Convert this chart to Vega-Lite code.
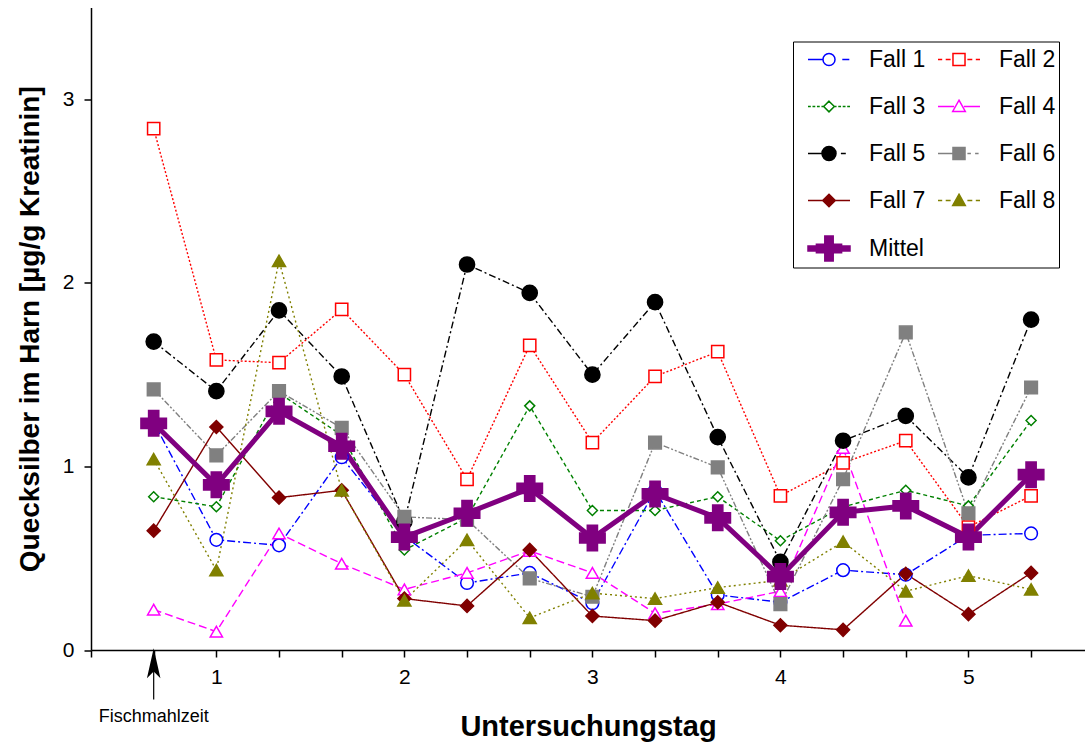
{
  "$schema": "https://vega.github.io/schema/vega-lite/v6.json",
  "width": 994,
  "height": 642.5,
  "autosize": {"type": "none"},
  "padding": {"left": 91, "top": 7.5, "right": 0, "bottom": 94},
  "background": "white",
  "config": {
    "font": "Liberation Sans",
    "view": {"stroke": null},
    "axis": {"grid": false, "domainColor": "black", "domainWidth": 1.5, "tickColor": "black", "tickWidth": 1.5, "tickSize": 7, "labelColor": "black", "labelFontSize": 21, "labelFont": "Liberation Sans", "titleColor": "black", "titleFont": "Liberation Sans", "titleFontWeight": "bold"}
  },
  "resolve": {"scale": {"stroke": "independent", "fill": "independent", "shape": "independent"}},
  "data": {"values": [
    {"s":"Fall 1","x":0.6667,"y":1.24},{"s":"Fall 1","x":1,"y":0.60},{"s":"Fall 1","x":1.3333,"y":0.57},{"s":"Fall 1","x":1.6667,"y":1.05},{"s":"Fall 1","x":2,"y":0.62},{"s":"Fall 1","x":2.3333,"y":0.365},{"s":"Fall 1","x":2.6667,"y":0.42},{"s":"Fall 1","x":3,"y":0.255},{"s":"Fall 1","x":3.3333,"y":0.87},{"s":"Fall 1","x":3.6667,"y":0.30},{"s":"Fall 1","x":4,"y":0.26},{"s":"Fall 1","x":4.3333,"y":0.435},{"s":"Fall 1","x":4.6667,"y":0.41},{"s":"Fall 1","x":5,"y":0.625},{"s":"Fall 1","x":5.3333,"y":0.635},
    {"s":"Fall 2","x":0.6667,"y":2.84},{"s":"Fall 2","x":1,"y":1.58},{"s":"Fall 2","x":1.3333,"y":1.565},{"s":"Fall 2","x":1.6667,"y":1.855},{"s":"Fall 2","x":2,"y":1.50},{"s":"Fall 2","x":2.3333,"y":0.93},{"s":"Fall 2","x":2.6667,"y":1.66},{"s":"Fall 2","x":3,"y":1.13},{"s":"Fall 2","x":3.3333,"y":1.49},{"s":"Fall 2","x":3.6667,"y":1.625},{"s":"Fall 2","x":4,"y":0.84},{"s":"Fall 2","x":4.3333,"y":1.02},{"s":"Fall 2","x":4.6667,"y":1.14},{"s":"Fall 2","x":5,"y":0.67},{"s":"Fall 2","x":5.3333,"y":0.84},
    {"s":"Fall 3","x":0.6667,"y":0.835},{"s":"Fall 3","x":1,"y":0.78},{"s":"Fall 3","x":1.3333,"y":1.40},{"s":"Fall 3","x":1.6667,"y":1.17},{"s":"Fall 3","x":2,"y":0.545},{"s":"Fall 3","x":2.3333,"y":0.72},{"s":"Fall 3","x":2.6667,"y":1.33},{"s":"Fall 3","x":3,"y":0.76},{"s":"Fall 3","x":3.3333,"y":0.76},{"s":"Fall 3","x":3.6667,"y":0.835},{"s":"Fall 3","x":4,"y":0.595},{"s":"Fall 3","x":4.3333,"y":0.78},{"s":"Fall 3","x":4.6667,"y":0.87},{"s":"Fall 3","x":5,"y":0.785},{"s":"Fall 3","x":5.3333,"y":1.25},
    {"s":"Fall 4","x":0.6667,"y":0.22},{"s":"Fall 4","x":1,"y":0.10},{"s":"Fall 4","x":1.3333,"y":0.635},{"s":"Fall 4","x":1.6667,"y":0.47},{"s":"Fall 4","x":2,"y":0.33},{"s":"Fall 4","x":2.3333,"y":0.42},{"s":"Fall 4","x":2.6667,"y":0.54},{"s":"Fall 4","x":3,"y":0.42},{"s":"Fall 4","x":3.3333,"y":0.20},{"s":"Fall 4","x":3.6667,"y":0.25},{"s":"Fall 4","x":4,"y":0.32},{"s":"Fall 4","x":4.3333,"y":1.10},{"s":"Fall 4","x":4.6667,"y":0.16},
    {"s":"Fall 5","x":0.6667,"y":1.68},{"s":"Fall 5","x":1,"y":1.41},{"s":"Fall 5","x":1.3333,"y":1.85},{"s":"Fall 5","x":1.6667,"y":1.49},{"s":"Fall 5","x":2,"y":0.70},{"s":"Fall 5","x":2.3333,"y":2.10},{"s":"Fall 5","x":2.6667,"y":1.945},{"s":"Fall 5","x":3,"y":1.50},{"s":"Fall 5","x":3.3333,"y":1.895},{"s":"Fall 5","x":3.6667,"y":1.16},{"s":"Fall 5","x":4,"y":0.48},{"s":"Fall 5","x":4.3333,"y":1.14},{"s":"Fall 5","x":4.6667,"y":1.275},{"s":"Fall 5","x":5,"y":0.94},{"s":"Fall 5","x":5.3333,"y":1.80},
    {"s":"Fall 6","x":0.6667,"y":1.42},{"s":"Fall 6","x":1,"y":1.06},{"s":"Fall 6","x":1.3333,"y":1.41},{"s":"Fall 6","x":1.6667,"y":1.21},{"s":"Fall 6","x":2,"y":0.725},{"s":"Fall 6","x":2.3333,"y":0.71},{"s":"Fall 6","x":2.6667,"y":0.39},{"s":"Fall 6","x":3,"y":0.29},{"s":"Fall 6","x":3.3333,"y":1.13},{"s":"Fall 6","x":3.6667,"y":0.995},{"s":"Fall 6","x":4,"y":0.25},{"s":"Fall 6","x":4.3333,"y":0.93},{"s":"Fall 6","x":4.6667,"y":1.73},{"s":"Fall 6","x":5,"y":0.745},{"s":"Fall 6","x":5.3333,"y":1.43},
    {"s":"Fall 7","x":0.6667,"y":0.65},{"s":"Fall 7","x":1,"y":1.215},{"s":"Fall 7","x":1.3333,"y":0.83},{"s":"Fall 7","x":1.6667,"y":0.87},{"s":"Fall 7","x":2,"y":0.28},{"s":"Fall 7","x":2.3333,"y":0.24},{"s":"Fall 7","x":2.6667,"y":0.545},{"s":"Fall 7","x":3,"y":0.185},{"s":"Fall 7","x":3.3333,"y":0.16},{"s":"Fall 7","x":3.6667,"y":0.26},{"s":"Fall 7","x":4,"y":0.135},{"s":"Fall 7","x":4.3333,"y":0.11},{"s":"Fall 7","x":4.6667,"y":0.415},{"s":"Fall 7","x":5,"y":0.195},{"s":"Fall 7","x":5.3333,"y":0.42},
    {"s":"Fall 8","x":0.6667,"y":1.04},{"s":"Fall 8","x":1,"y":0.435},{"s":"Fall 8","x":1.3333,"y":2.12},{"s":"Fall 8","x":1.6667,"y":0.87},{"s":"Fall 8","x":2,"y":0.27},{"s":"Fall 8","x":2.3333,"y":0.60},{"s":"Fall 8","x":2.6667,"y":0.175},{"s":"Fall 8","x":3,"y":0.31},{"s":"Fall 8","x":3.3333,"y":0.28},{"s":"Fall 8","x":3.6667,"y":0.34},{"s":"Fall 8","x":4,"y":0.38},{"s":"Fall 8","x":4.3333,"y":0.59},{"s":"Fall 8","x":4.6667,"y":0.32},{"s":"Fall 8","x":5,"y":0.405},{"s":"Fall 8","x":5.3333,"y":0.33},
    {"s":"Mittel","x":0.6667,"y":1.235},{"s":"Mittel","x":1,"y":0.90},{"s":"Mittel","x":1.3333,"y":1.30},{"s":"Mittel","x":1.6667,"y":1.11},{"s":"Mittel","x":2,"y":0.615},{"s":"Mittel","x":2.3333,"y":0.745},{"s":"Mittel","x":2.6667,"y":0.88},{"s":"Mittel","x":3,"y":0.61},{"s":"Mittel","x":3.3333,"y":0.85},{"s":"Mittel","x":3.6667,"y":0.72},{"s":"Mittel","x":4,"y":0.40},{"s":"Mittel","x":4.3333,"y":0.75},{"s":"Mittel","x":4.6667,"y":0.785},{"s":"Mittel","x":5,"y":0.615},{"s":"Mittel","x":5.3333,"y":0.955}
  ]},
  "encoding": {
    "x": {"field": "x", "type": "quantitative", "scale": {"domain": [0.3333, 5.62], "nice": false, "zero": false},
      "axis": {"title": "Untersuchungstag", "titleFontSize": 29, "titlePadding": 25, "values": [0.3333,0.6667,1,1.3333,1.6667,2,2.3333,2.6667,3,3.3333,3.6667,4,4.3333,4.6667,5,5.3333], "labelExpr": "abs(datum.value - round(datum.value)) < 0.01 ? format(datum.value, 'd') : ''", "labelPadding": 9, "labelFlush": false, "labelOverlap": false}},
    "y": {"field": "y", "type": "quantitative", "scale": {"domain": [0, 3.5], "nice": false},
      "axis": {"title": "Quecksilber im Harn [µg/g Kreatinin]", "titleFontSize": 28, "titlePadding": 18, "values": [0, 1, 2, 3], "format": "d", "labelPadding": 10}}
  },
  "layer": [
    {"data": {"values": [{}]}, "mark": {"type": "rule", "color": "black", "strokeWidth": 1.5}, "encoding": {"x": null, "y": {"datum": 3.5}}},
    {"transform": [{"filter": "datum.s !== 'Mittel'"}],
     "mark": {"type": "line", "strokeWidth": 1.4},
     "encoding": {
       "stroke": {"field": "s", "type": "nominal", "legend": null, "scale": {"domain": ["Fall 1","Fall 2","Fall 3","Fall 4","Fall 5","Fall 6","Fall 7","Fall 8","Mittel"], "range": ["#0000ff","#ff0000","#008000","#ff00ff","#000000","#808080","#800000","#808000","#800080"]}},
       "strokeDash": {"field": "s", "type": "nominal", "legend": null, "scale": {"type": "ordinal", "domain": ["Fall 1","Fall 2","Fall 3","Fall 4","Fall 5","Fall 6","Fall 7","Fall 8","Mittel"], "range": [[8,3,2,3],[2,2],[4,3],[8,4],[7,3,2,3],[6,2,2,2,2,2],[1,0],[2,3],[1,0]]}}
     }},
    {"transform": [{"filter": "datum.s === 'Mittel'"}],
     "mark": {"type": "line", "strokeWidth": 5},
     "encoding": {
       "stroke": {"field": "s", "type": "nominal", "legend": null, "scale": {"domain": ["Fall 1","Fall 2","Fall 3","Fall 4","Fall 5","Fall 6","Fall 7","Fall 8","Mittel"], "range": ["#0000ff","#ff0000","#008000","#ff00ff","#000000","#808080","#800000","#808000","#800080"]}}
     }},
    {"mark": {"type": "point", "filled": true, "strokeWidth": 1.5, "opacity": 1},
     "encoding": {
       "stroke": {"field": "s", "type": "nominal", "legend": null, "scale": {"domain": ["Fall 1","Fall 2","Fall 3","Fall 4","Fall 5","Fall 6","Fall 7","Fall 8","Mittel"], "range": ["#0000ff","#ff0000","#008000","#ff00ff","#000000","#808080","#800000","#808000","#800080"]}},
       "fill": {"field": "s", "type": "nominal", "legend": null, "scale": {"domain": ["Fall 1","Fall 2","Fall 3","Fall 4","Fall 5","Fall 6","Fall 7","Fall 8","Mittel"], "range": ["white","white","white","white","#000000","#808080","#800000","#808000","#800080"]}},
       "shape": {"field": "s", "type": "nominal", "legend": null, "scale": {"domain": ["Fall 1","Fall 2","Fall 3","Fall 4","Fall 5","Fall 6","Fall 7","Fall 8","Mittel"], "range": ["circle","square","diamond","triangle-up","circle","square","diamond","triangle-up","cross"]}},
       "size": {"field": "s", "type": "nominal", "legend": null, "scale": {"type": "ordinal", "domain": ["Fall 1","Fall 2","Fall 3","Fall 4","Fall 5","Fall 6","Fall 7","Fall 8","Mittel"], "range": [160,150,100,150,230,160,170,170,650]}}
     }},
    {"data": {"values": []},
     "mark": {"type": "point", "filled": true, "opacity": 1},
     "encoding": {
       "stroke": {"field": "s", "type": "nominal", "scale": {"domain": ["Fall 1","Fall 2","Fall 3","Fall 4","Fall 5","Fall 6","Fall 7","Fall 8","Mittel"], "range": ["#0000ff","#ff0000","#008000","#ff00ff","#000000","#808080","#800000","#808000","#800080"]},
         "legend": {"title": null, "orient": "none", "legendX": 702, "legendY": 34, "direction": "horizontal", "columns": 2, "strokeColor": "black", "fillColor": "white", "padding": 3, "rowPadding": 20, "columnPadding": -5, "symbolSize": 784, "symbolStrokeWidth": 1.5, "symbolOpacity": 1, "symbolOffset": 18, "labelOffset": 25, "labelFontSize": 23, "labelColor": "black", "labelFont": "Liberation Sans"}},
       "fill": {"field": "s", "type": "nominal", "legend": {"title": null, "orient": "none", "legendX": 702, "legendY": 34}, "scale": {"domain": ["Fall 1","Fall 2","Fall 3","Fall 4","Fall 5","Fall 6","Fall 7","Fall 8","Mittel"], "range": ["white","white","white","white","#000000","#808080","#800000","#808000","#800080"]}},
       "shape": {"field": "s", "type": "nominal", "legend": {"title": null, "orient": "none", "legendX": 702, "legendY": 34}, "scale": {"domain": ["Fall 1","Fall 2","Fall 3","Fall 4","Fall 5","Fall 6","Fall 7","Fall 8","Mittel"], "range": [
         "M-1.5,0H-0.45M0.95,0H1.45M-0.43,0A0.43,0.43,0,1,0,0.43,0A0.43,0.43,0,1,0,-0.43,0Z",
         "M-1.5,0H-1.2M-0.95,0H-0.6M0.6,0H0.95M1.2,0H1.5M-0.43,-0.43H0.43V0.43H-0.43Z",
         "M-1.5,0H-1.3M-1.18,0H-0.98M-0.86,0H-0.66M-0.54,0H-0.38M0.38,0H0.54M0.66,0H0.86M0.98,0H1.18M1.3,0H1.5M0,-0.38L0.38,0L0,0.38L-0.38,0Z",
         "M-1.5,0H-0.35M0.35,0H1.5M0,-0.45L0.45,0.35L-0.45,0.35Z",
         "M-1.5,0H-0.5M0.85,0H1.2M-0.5,0A0.5,0.5,0,1,0,0.5,0A0.5,0.5,0,1,0,-0.5,0Z",
         "M-1.5,0H-0.45M0.6,0H0.85M1.15,0H1.4M-0.43,-0.43H0.43V0.43H-0.43Z",
         "M-1.5,0H-0.45M0.45,0H1.5M0,-0.45L0.45,0L0,0.45L-0.45,0Z",
         "M-1.5,0H-1.2M-0.95,0H-0.6M0.6,0H0.95M1.2,0H1.5M0,-0.45L0.45,0.35L-0.45,0.35Z",
         "M-1.5,-0.18H1.5V0.18H-1.5ZM-0.3,-0.9H0.3V-0.3H0.9V0.3H0.3V0.9H-0.3V0.3H-0.9V-0.3H-0.3Z"
       ]}}
     }},
    {"data": {"values": [{"x": 0.6667, "y": -0.015, "y2": -0.27}]}, "mark": {"type": "rule", "color": "black", "strokeWidth": 1.2}, "encoding": {"y2": {"field": "y2"}}},
    {"data": {"values": [{"x": 0.6667, "y": -0.072}]}, "mark": {"type": "point", "shape": "M0,-1L0.45,1L0,0.55L-0.45,1Z", "filled": true, "color": "black", "size": 900, "opacity": 1}},
    {"data": {"values": [{"x": 0.6667, "y": -0.365, "t": "Fischmahlzeit"}]}, "mark": {"type": "text", "fontSize": 18, "color": "black", "font": "Liberation Sans"}, "encoding": {"text": {"field": "t"}}}
  ]
}
